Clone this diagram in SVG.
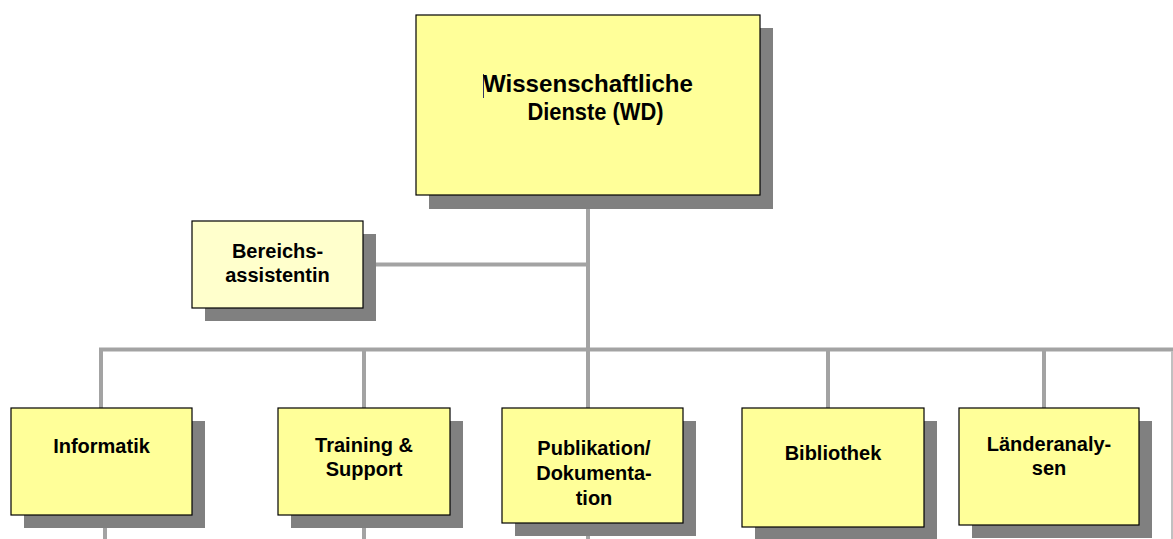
<svg xmlns="http://www.w3.org/2000/svg" width="1173" height="539" viewBox="0 0 1173 539">
<style>
.shadow{fill:#808080}
.box{fill:#ffff99;stroke:#000;stroke-width:1.2}
.box2{fill:#ffffcc;stroke:#000;stroke-width:1.2}
.conn{stroke:#a3a3a3;stroke-width:4;fill:none}
text{font-family:"Liberation Sans",Arial,sans-serif;font-weight:bold;fill:#000;text-anchor:middle}
.t20{font-size:20px}
.t24{font-size:24px}
</style>
<rect width="1173" height="539" fill="#fff"/>
<g id="connectors">
<line class="conn" x1="588" y1="195" x2="588" y2="410"/>
<line class="conn" x1="363" y1="264.5" x2="588" y2="264.5"/>
<polyline class="conn" points="101,410 101,349.5 1174,349.5"/>
<line class="conn" x1="364" y1="349.5" x2="364" y2="410"/>
<line class="conn" x1="828" y1="349.5" x2="828" y2="410"/>
<line class="conn" x1="1044" y1="349.5" x2="1044" y2="410"/>
<line x1="1172" y1="351" x2="1172" y2="539" stroke="#c0c0c0" stroke-width="2"/>
<line class="conn" x1="105" y1="515" x2="105" y2="539"/>
<line class="conn" x1="364" y1="515" x2="364" y2="539"/>
<line class="conn" x1="588" y1="523" x2="588" y2="539"/>
</g>
<g id="wd">
<rect class="shadow" x="429" y="28" width="344" height="181"/>
<rect class="box" x="416" y="15" width="344" height="180"/>
<line x1="483.5" y1="74" x2="483.5" y2="98" stroke="#333366" stroke-width="1"/>
<text class="t24" x="588" y="92" textLength="210" lengthAdjust="spacingAndGlyphs">Wissenschaftliche</text>
<text class="t24" x="595.5" y="120" textLength="136" lengthAdjust="spacingAndGlyphs">Dienste (WD)</text>
</g>
<g id="bereichsassistentin">
<rect class="shadow" x="205" y="234" width="171" height="87"/>
<rect class="box2" x="192" y="221" width="171" height="87"/>
<text class="t20" x="277.5" y="258">Bereichs-</text>
<text class="t20" x="277.5" y="282">assistentin</text>
</g>
<g id="informatik">
<rect class="shadow" x="24" y="421" width="181" height="107"/>
<rect class="box" x="11" y="408" width="181" height="107"/>
<text class="t20" x="101.5" y="453">Informatik</text>
</g>
<g id="training">
<rect class="shadow" x="291" y="421" width="172" height="107"/>
<rect class="box" x="278" y="408" width="172" height="107"/>
<text class="t20" x="364" y="452">Training &amp;</text>
<text class="t20" x="364" y="476">Support</text>
</g>
<g id="publikation">
<rect class="shadow" x="515" y="421" width="181" height="115"/>
<rect class="box" x="502" y="408" width="181" height="115"/>
<text class="t20" x="594" y="455">Publikation/</text>
<text class="t20" x="594" y="480">Dokumenta-</text>
<text class="t20" x="594" y="505">tion</text>
</g>
<g id="bibliothek">
<rect class="shadow" x="755" y="421" width="182" height="119"/>
<rect class="box" x="742" y="408" width="182" height="119"/>
<text class="t20" x="833" y="460">Bibliothek</text>
</g>
<g id="laenderanalysen">
<rect class="shadow" x="972" y="421" width="180" height="117"/>
<rect class="box" x="959" y="408" width="180" height="117"/>
<text class="t20" x="1049" y="451">Länderanaly-</text>
<text class="t20" x="1049" y="475">sen</text>
</g>
</svg>
